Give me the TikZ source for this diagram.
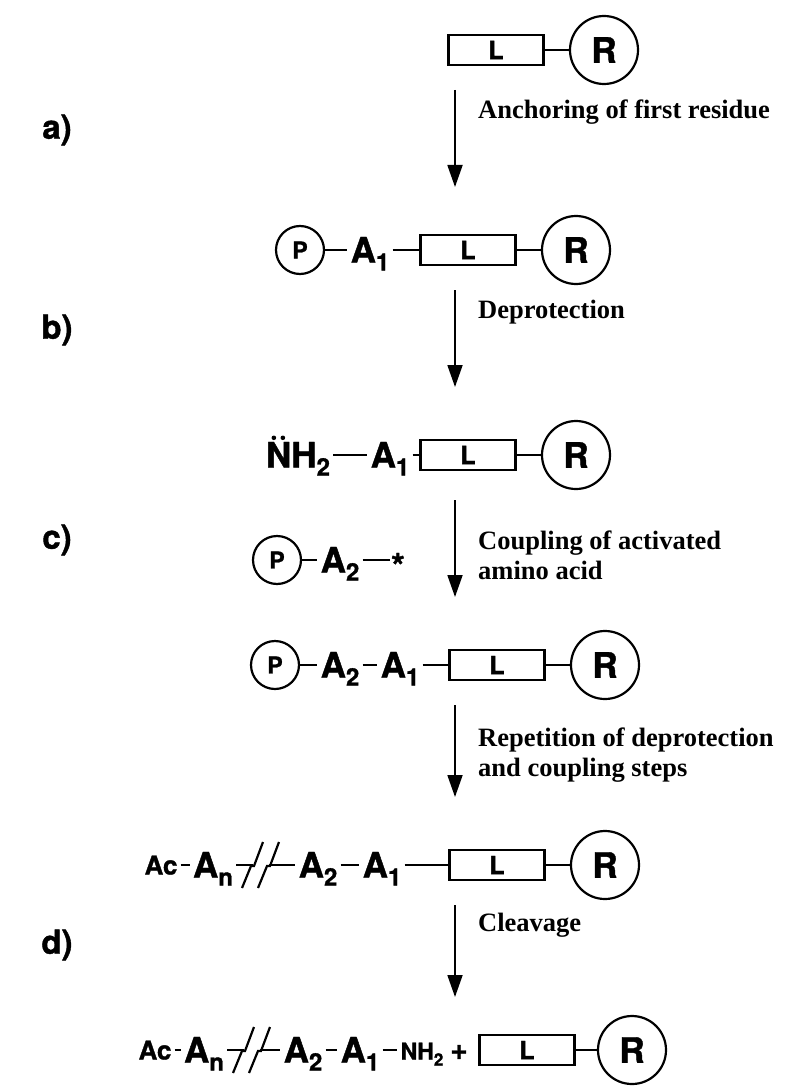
\documentclass[tikz,border=0pt]{standalone}
\usepackage{fontspec}
\setmainfont{Liberation Serif}
\newfontfamily\hv{TeX Gyre Heros}[BoldFeatures={FakeBold=1.2}]
\usetikzlibrary{arrows.meta}
\newcommand\sbx[1]{\raisebox{-8pt}{\fontsize{24}{24}\selectfont #1}}
\tikzset{
  lbl/.style={font=\hv\bfseries\fontsize{33}{33}\selectfont, inner sep=0pt},
  grp/.style={font=\hv\bfseries\fontsize{35}{35}\selectfont, inner xsep=3pt, inner ysep=0pt, text height=25pt, text depth=0pt},
  sgrp/.style={font=\hv\bfseries\fontsize{26}{26}\selectfont, inner xsep=3pt, inner ysep=0pt, text height=19pt, text depth=0pt},
  lbox/.style={draw, line width=2.2pt, minimum width=95pt, minimum height=30pt, inner sep=0pt, font=\hv\bfseries\fontsize{25}{25}\selectfont},
  rcirc/.style={draw, circle, line width=2.2pt, minimum size=68pt, inner sep=0pt, font=\hv\bfseries\fontsize{35}{35}\selectfont},
  pcirc/.style={draw, circle, line width=2.2pt, minimum size=48pt, inner sep=0pt, font=\hv\bfseries\fontsize{23}{23}\selectfont},
  bond/.style={line width=2.2pt},
  steparrow/.style={line width=1.8pt, -{Triangle[length=22pt,width=15pt]}},
  steptext/.style={font=\bfseries\fontsize{26.5}{30}\selectfont, anchor=west, align=left, inner sep=0pt},
}
\begin{document}
\begin{tikzpicture}[x=1pt,y=-1pt]
\useasboundingbox (0,0) rectangle (811,1086);

% ---- row 1
\node[lbox] (L1) at (496,50) {L};
\node[rcirc] (R1) at (604,50) {R};
\draw[bond] (L1) -- (R1);

% ---- step a
\node[lbl] (la) at (57,130) {a)};
\coordinate (a1s) at (455,90);
\coordinate (a1e) at (455,187);
\draw[steparrow] (a1s) -- (a1e);
\node[steptext] (ta) at (478,112) {Anchoring of first residue};

% ---- row 2
\node[pcirc] (P2) at (300,250) {P};
\node[grp] (A12) at (370,250) {A\sbx{1}};
\node[lbox] (L2) at (468,250) {L};
\node[rcirc] (R2) at (576,250) {R};
\draw[bond] (P2) -- (A12);
\draw[bond] (A12) -- (L2);
\draw[bond] (L2) -- (R2);

% ---- step b
\node[lbl] (lb) at (57,330) {b)};
\coordinate (b1s) at (455,290);
\coordinate (b1e) at (455,387);
\draw[steparrow] (b1s) -- (b1e);
\node[steptext] (tb) at (478,312) {Deprotection};

% ---- row 3
\node[grp] (N3) at (298,455) {NH\sbx{2}};
\fill ([xshift=11pt,yshift=4.5pt]N3.north west) circle (2.3pt);
\fill ([xshift=20pt,yshift=4.5pt]N3.north west) circle (2.3pt);
\node[grp] (A13) at (390,455) {A\sbx{1}};
\node[lbox] (L3) at (468,455) {L};
\node[rcirc] (R3) at (576,455) {R};
\draw[bond] (N3) -- (A13);
\draw[bond] (A13) -- (L3);
\draw[bond] (L3) -- (R3);

% ---- step c
\node[lbl] (lc) at (57,540) {c)};
\node[pcirc] (P4) at (277,560) {P};
\node[grp] (A24) at (340,560) {A\sbx{2}};
\node[grp, inner xsep=1pt] (S4) at (398,560) {\raisebox{-6pt}{*}};
\draw[bond] (P4) -- (A24);
\draw[bond] (A24) -- (S4);
\coordinate (c1s) at (455,500);
\coordinate (c1e) at (455,597);
\draw[steparrow] (c1s) -- (c1e);
\node[steptext] (tc) at (478,555) {Coupling of activated\\amino acid};

% ---- row 5
\node[pcirc] (P5) at (275,665) {P};
\node[grp] (A25) at (340,665) {A\sbx{2}};
\node[grp] (A15) at (400,665) {A\sbx{1}};
\node[lbox] (L5) at (497,665) {L};
\node[rcirc] (R5) at (605,665) {R};
\draw[bond] (P5) -- (A25);
\draw[bond] (A25) -- (A15);
\draw[bond] (A15) -- (L5);
\draw[bond] (L5) -- (R5);

% ---- repetition step
\coordinate (d1s) at (455,705);
\coordinate (d1e) at (455,797);
\draw[steparrow] (d1s) -- (d1e);
\node[steptext] (td) at (478,755) {Repetition of deprotection\\and coupling steps};

% ---- row 6
\node[sgrp] (Ac6) at (161,865) {Ac};
\node[grp] (An6) at (213,865) {A\sbx{n}};
\coordinate (bka6) at (253,865);
\coordinate (bkb6) at (269,865);
\node[grp] (A26) at (318,865) {A\sbx{2}};
\node[grp] (A16) at (382,865) {A\sbx{1}};
\node[lbox] (L6) at (497,865) {L};
\node[rcirc] (R6) at (605,865) {R};
\draw[bond] (Ac6) -- (An6);
\draw[bond] (An6) -- (bka6);
\draw[bond] (bka6) ++(-11,23) -- ++(9,-22) -- ++(3,0) -- ++(9,-24);
\draw[bond] (bkb6) ++(-11,23) -- ++(9,-22) -- ++(3,0) -- ++(9,-24);
\draw[bond] (bkb6) -- (A26);
\draw[bond] (A26) -- (A16);
\draw[bond] (A16) -- (L6);
\draw[bond] (L6) -- (R6);

% ---- cleavage step
\node[lbl] (ld) at (57,945) {d)};
\coordinate (e1s) at (455,905);
\coordinate (e1e) at (455,997);
\draw[steparrow] (e1s) -- (e1e);
\node[steptext] (te) at (478,925) {Cleavage};

% ---- row 7
\node[sgrp] (Ac7) at (155,1050) {Ac};
\node[grp] (An7) at (204,1050) {A\sbx{n}};
\coordinate (bka7) at (244,1050);
\coordinate (bkb7) at (260,1050);
\node[grp] (A27) at (303,1050) {A\sbx{2}};
\node[grp] (A17) at (360,1050) {A\sbx{1}};
\node[sgrp, font=\hv\bfseries\fontsize{23}{23}\selectfont] (NH7) at (422,1050) {NH\raisebox{-6pt}{\fontsize{17}{17}\selectfont 2}};
\node[sgrp, font=\hv\bfseries\fontsize{30}{30}\selectfont] (plus7) at (459,1050) {+};
\node[lbox] (L7) at (527,1050) {L};
\node[rcirc] (R7) at (632,1050) {R};
\draw[bond] (Ac7) -- (An7);
\draw[bond] (An7) -- (bka7);
\draw[bond] (bka7) ++(-11,23) -- ++(9,-22) -- ++(3,0) -- ++(9,-24);
\draw[bond] (bkb7) ++(-11,23) -- ++(9,-22) -- ++(3,0) -- ++(9,-24);
\draw[bond] (bkb7) -- (A27);
\draw[bond] (A27) -- (A17);
\draw[bond] (A17) -- (NH7);
\draw[bond] (L7) -- (R7);
\end{tikzpicture}
\end{document}
